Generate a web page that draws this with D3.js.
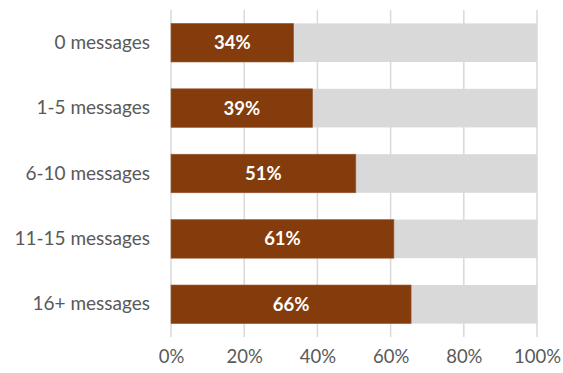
<!DOCTYPE html>
<html><head><meta charset="utf-8">
<script src="https://cdn.jsdelivr.net/npm/d3@7"></script>
<style>body{margin:0;background:#fff}svg{display:block}text{font-family:Lato,"Open Sans",sans-serif}</style>
</head><body><svg id="c" width="563" height="373"></svg>
<script>
const categories = ["0 messages","1-5 messages","6-10 messages","11-15 messages","16+ messages"];
const values = [33.5, 38.7, 50.5, 60.9, 65.6];
const totals = [100, 100, 100, 100, 100];
const ticks = [0, 20, 40, 60, 80, 100];

const svg = d3.select("#c");
const m = {left:171, right:26, top:10, bottom:36};
const W = 563, H = 373;
const x = d3.scaleLinear().domain([0,100]).range([m.left, W - m.right]);
const y = d3.scaleBand().domain(categories).range([m.top, H - m.bottom]).paddingInner(0.41).paddingOuter(0.205);

// gridlines
svg.append("g").selectAll("line").data(ticks).join("line")
  .attr("x1", d=>x(d)).attr("x2", d=>x(d))
  .attr("y1", m.top).attr("y2", H - m.bottom)
  .attr("stroke", "#d9d9d9").attr("stroke-width", 1.5);

// background bars
svg.append("g").selectAll("rect").data(categories).join("rect")
  .attr("x", x(0)).attr("y", d=>y(d))
  .attr("width", (d,i)=>x(totals[i]) - x(0)).attr("height", y.bandwidth())
  .attr("fill", "#d9d9d9");

// value bars
svg.append("g").selectAll("rect").data(categories).join("rect")
  .attr("x", x(0)).attr("y", d=>y(d))
  .attr("width", (d,i)=>x(values[i]) - x(0)).attr("height", y.bandwidth())
  .attr("fill", "#843c0c").attr("stroke","#a0603a").attr("stroke-width",0.6);

// value labels
svg.append("g").selectAll("text").data(categories).join("text")
  .attr("x", (d,i)=>(x(0)+x(values[i]))/2).attr("y", d=>y(d)+y.bandwidth()/2)
  .attr("dy","0.35em").attr("text-anchor","middle")
  .attr("fill","#fff").attr("font-weight","bold").attr("font-size","18.5px")
  .text((d,i)=>Math.round(values[i])+"%");

// category axis
const ya = d3.axisLeft(y).tickSize(0).tickPadding(21);
const gy = svg.append("g").attr("transform",`translate(${m.left},0)`).call(ya);
gy.select(".domain").remove();
gy.selectAll("text").attr("font-size","19px").attr("fill","#595959").style("font-family","Lato,'Open Sans',sans-serif");

// x axis
const xa = d3.axisBottom(x).tickValues(ticks).tickFormat(d=>d+"%").tickSize(0).tickPadding(13);
const gx = svg.append("g").attr("transform",`translate(0,${H - m.bottom})`).call(xa);
gx.select(".domain").remove();
gx.selectAll("text").attr("font-size","18.5px").attr("fill","#595959").style("font-family","Lato,'Open Sans',sans-serif");
</script></body></html>
